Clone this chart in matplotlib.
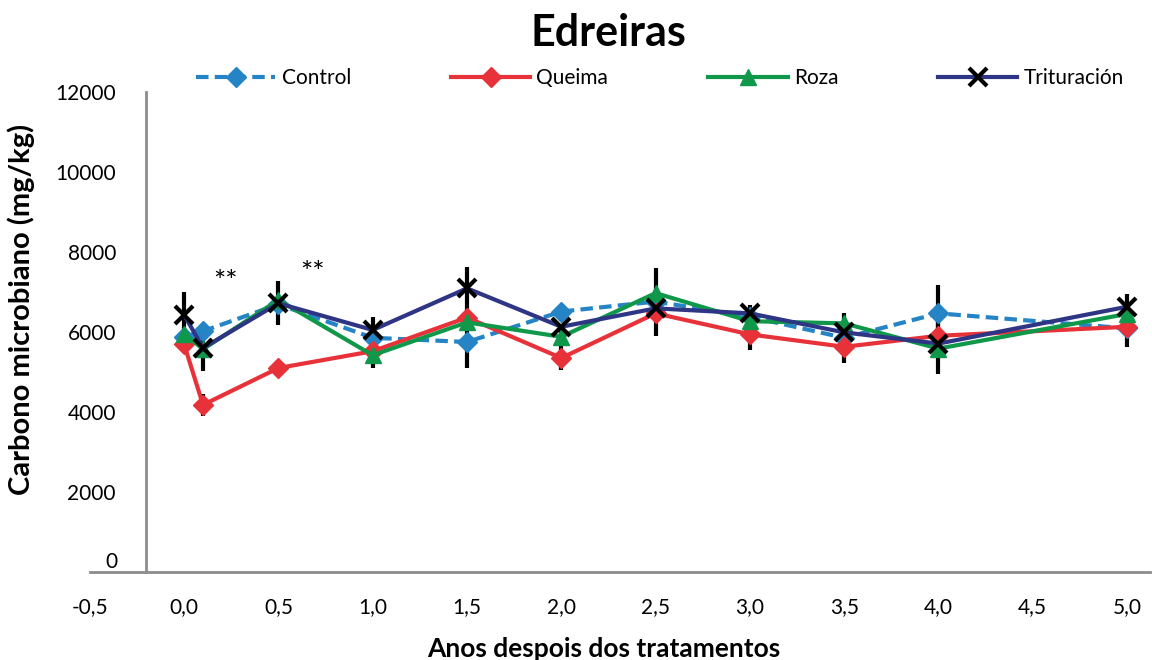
import numpy as np
import matplotlib.pyplot as plt

plt.rcParams["font.family"] = ["Lato", "DejaVu Sans"]

# -------------------------------------------------------------------
# Data
# -------------------------------------------------------------------
years = [0.0, 0.1, 0.5, 1.0, 1.5, 2.0, 2.5, 3.0, 3.5, 4.0, 5.0]

control = [5880, 6020, 6690, 5855, 5750, 6510, 6760, 6380, 5855, 6465, 6090]
queima = [5690, 4180, 5100, 5520, 6360, 5350, 6465, 5940, 5630, 5905, 6130]
roza = [5960, 5570, 6800, 5420, 6240, 5880, 6970, 6270, 6215, 5585, 6450]
trituracion = [6425, 5600, 6715, 6050, 7090, 6130, 6590, 6465, 5990, 5710, 6630]

# error bars (0 = none drawn)
err_control = [0, 0, 0, 0, 0, 0, 850, 0, 630, 720, 0]
err_queima = [180, 270, 200, 0, 1270, 300, 0, 380, 0, 0, 500]
err_roza = [0, 0, 0, 330, 0, 230, 0, 0, 0, 0, 0]
err_trituracion = [580, 580, 550, 330, 0, 0, 0, 200, 0, 760, 330]

# significance marks
sig_x = [0.22, 0.68]
sig_y = [7220, 7450]
sig_text = ["**", "**"]

x_ticks = np.arange(-0.5, 5.01, 0.5)
x_ticklabels = [f"{v:.1f}".replace(".", ",") for v in x_ticks]
y_ticks = np.arange(0, 12001, 2000)
y_ticklabels = [str(v) for v in y_ticks]

# -------------------------------------------------------------------
# Figure
# -------------------------------------------------------------------
fig = plt.figure(figsize=(11.52, 6.6), dpi=100)
ax = fig.add_axes([0.078, 0.133, 0.92, 0.728])

ax.plot(years, control, color="#2584c6", lw=3, ls=(0, (3, 1.5)),
        marker="D", ms=10, mec="#2584c6", label="Control", zorder=3)
ax.plot(years, queima, color="#e8323a", lw=3,
        marker="D", ms=10, mec="#e8323a", label="Queima", zorder=3)
ax.plot(years, roza, color="#10984a", lw=3,
        marker="^", ms=11, mec="#10984a", label="Roza", zorder=3)
ax.plot(years, trituracion, color="#2e3585", lw=3,
        marker="x", ms=13, mec="black", mew=3, label="Trituración", zorder=4)

for vals, errs in [(control, err_control), (queima, err_queima),
                   (roza, err_roza), (trituracion, err_trituracion)]:
    v = np.array(vals, dtype=float)
    e = np.array(errs, dtype=float)
    m = e > 0
    ax.errorbar(np.array(years)[m], v[m], yerr=e[m], fmt="none",
                ecolor="black", elinewidth=3, capsize=0, zorder=2)

for sx, sy, st in zip(sig_x, sig_y, sig_text):
    ax.text(sx, sy, st, ha="center", va="center", fontsize=21)

ax.set_xlim(-0.5, 5.12)
ax.set_ylim(0, 12000)
ax.set_xticks(x_ticks)
ax.set_xticklabels(x_ticklabels)
ax.set_yticks(y_ticks)
# the "0" label sits a bit above the horizontal axis line in the reference
ax.set_yticklabels([""] + y_ticklabels[1:])
ax.annotate(y_ticklabels[0], xy=(-0.2, 0), xytext=(-21, 7),
            textcoords="offset points", ha="right", va="center", fontsize=15)
ax.tick_params(length=0, labelsize=15)
ax.tick_params(axis="x", pad=18)
ax.tick_params(axis="y", pad=22)

for s in ["top", "right"]:
    ax.spines[s].set_visible(False)
ax.spines["left"].set_position(("data", -0.2))
for s in ["left", "bottom"]:
    ax.spines[s].set_color("#8c8c8c")
    ax.spines[s].set_linewidth(2)

ax.set_xlabel("Anos despois dos tratamentos", fontsize=19, fontweight="bold")
ax.xaxis.set_label_coords(0.485, -0.135)
ax.set_ylabel("Carbono microbiano (mg/kg)", fontsize=21, fontweight="bold")
ax.yaxis.set_label_coords(-0.052, 0.546)

fig.suptitle("Edreiras", fontsize=31, fontweight="bold", x=0.528, y=0.98)

fig.legend(loc="center", bbox_to_anchor=(0.573, 0.882), ncol=4, frameon=False,
           fontsize=15, handlelength=3.8, handletextpad=0.3, columnspacing=4.8)

fig.savefig("out.png", dpi=100)
